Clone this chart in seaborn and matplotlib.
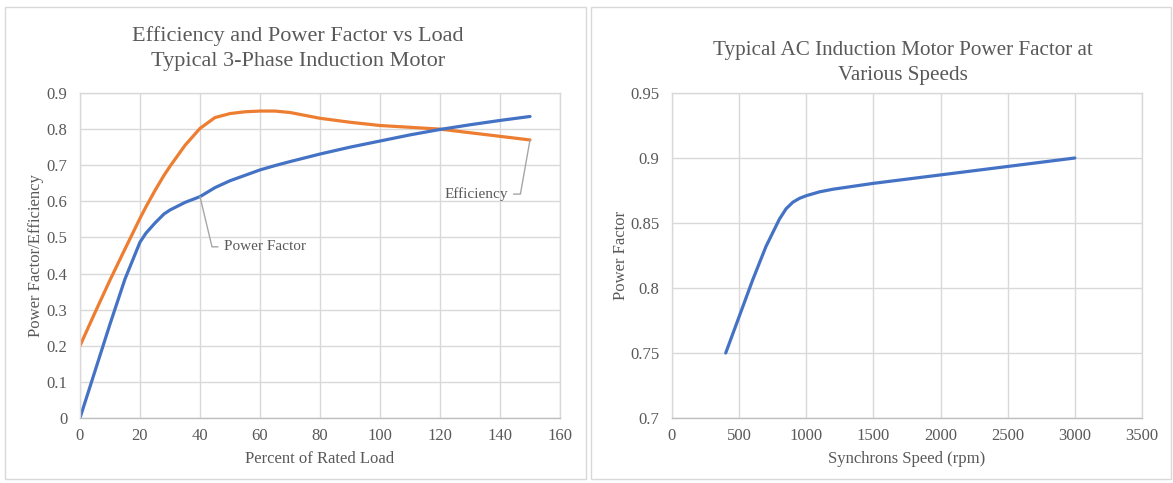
import matplotlib
matplotlib.use("Agg")
import matplotlib.pyplot as plt
from matplotlib.patches import Rectangle
import seaborn as sns

# Left chart: efficiency and power factor against load (% of rated)
load_pct = [0, 5, 10, 15, 20, 22, 25, 28, 30, 35, 40, 45, 50, 55, 60, 65, 70, 80, 90,
            100, 110, 120, 130, 140, 150]
power_factor = [0.0, 0.13, 0.26, 0.385, 0.487, 0.512, 0.54, 0.565, 0.576, 0.597, 0.613,
                0.638, 0.657, 0.672, 0.687, 0.699, 0.71, 0.731, 0.75, 0.767, 0.784,
                0.799, 0.812, 0.824, 0.835]
efficiency = [0.2, 0.292, 0.382, 0.468, 0.553, 0.585, 0.63, 0.672, 0.697, 0.755, 0.802,
              0.832, 0.843, 0.848, 0.85, 0.85, 0.846, 0.83, 0.819, 0.81, 0.805, 0.80,
              0.79, 0.78, 0.77]

# Right chart: power factor against synchronous speed
speed_rpm = [400, 500, 600, 700, 800, 850, 900, 950, 1000, 1100, 1200, 1500, 2000, 2500, 3000]
speed_pf = [0.75, 0.778, 0.806, 0.832, 0.853, 0.861, 0.866, 0.869, 0.871, 0.874, 0.876,
            0.8805, 0.887, 0.8935, 0.90]

left_xticks = [0, 20, 40, 60, 80, 100, 120, 140, 160]
left_yticks = [0, 0.1, 0.2, 0.3, 0.4, 0.5, 0.6, 0.7, 0.8, 0.9]
right_xticks = [0, 500, 1000, 1500, 2000, 2500, 3000, 3500]
right_yticks = [0.7, 0.75, 0.8, 0.85, 0.9, 0.95]

BLUE = "#4472C4"
ORANGE = "#ED7D31"
TEXT = "#595959"
GRID = "#D9D9D9"

sns.set_theme(style="white")
plt.rcParams["font.family"] = ["Liberation Serif", "DejaVu Serif"]

W, H = 1173, 483
fig = plt.figure(figsize=(W / 100, H / 100), dpi=100)


def px_box(x0, y0, x1, y1):
    return [x0 / W, 1 - y1 / H, (x1 - x0) / W, (y1 - y0) / H]


# chart frames
for (x0, y0, x1, y1) in [(5, 7, 586, 479), (591, 7, 1171, 479)]:
    fig.patches.append(Rectangle((x0 / W, 1 - y1 / H), (x1 - x0) / W, (y1 - y0) / H,
                                 transform=fig.transFigure, fill=False,
                                 edgecolor="#D9D9D9", linewidth=1.0))

ax1 = fig.add_axes(px_box(80, 93, 560, 418))
ax2 = fig.add_axes(px_box(672, 93, 1142, 418))


def fmt(v):
    return f"{v:.2f}".rstrip("0").rstrip(".")


def style_axes(ax, xticks, yticks):
    ax.set_xticks(xticks)
    ax.set_yticks(yticks)
    ax.set_xticklabels([str(t) for t in xticks])
    ax.set_yticklabels([fmt(t) for t in yticks])
    ax.set_xlim(xticks[0], xticks[-1])
    ax.set_ylim(yticks[0], yticks[-1])
    ax.grid(True, color=GRID, linewidth=1.0)
    ax.set_axisbelow(True)
    for s in ax.spines.values():
        s.set_color(GRID)
        s.set_linewidth(1.0)
    ax.spines["bottom"].set_color("#BFBFBF")
    ax.tick_params(axis="both", length=0, labelsize=12, colors=TEXT)
    ax.tick_params(axis="x", pad=7)
    ax.tick_params(axis="y", pad=9)


sns.lineplot(x=load_pct, y=efficiency, ax=ax1, color=ORANGE, linewidth=2.3,
             sort=False, estimator=None)
sns.lineplot(x=load_pct, y=power_factor, ax=ax1, color=BLUE, linewidth=2.3,
             sort=False, estimator=None)
style_axes(ax1, left_xticks, left_yticks)
ax1.set_xlabel("Percent of Rated Load", fontsize=12, color=TEXT, labelpad=5)
ax1.set_ylabel("Power Factor/Efficiency", fontsize=12, color=TEXT)
ax1.yaxis.set_label_coords(-0.075, 0.5)

# data labels with leader lines
pf_at_40 = power_factor[load_pct.index(40)]
ax1.plot([40, 44, 46], [pf_at_40, 0.474, 0.474], color="#A6A6A6", linewidth=1.0)
ax1.text(48, 0.474, "Power Factor", fontsize=11, color=TEXT, va="center", ha="left")
eff_end = efficiency[-1]
ax1.plot([150, 146.8, 144.5], [eff_end, 0.62, 0.62], color="#A6A6A6", linewidth=1.0)
ax1.text(142.8, 0.62, "Efficiency", fontsize=11, color=TEXT, va="center", ha="right")

sns.lineplot(x=speed_rpm, y=speed_pf, ax=ax2, color=BLUE, linewidth=2.3,
             sort=False, estimator=None)
style_axes(ax2, right_xticks, right_yticks)
ax2.set_xlabel("Synchrons Speed (rpm)", fontsize=12, color=TEXT, labelpad=5)
ax2.set_ylabel("Power Factor", fontsize=12, color=TEXT)
ax2.yaxis.set_label_coords(-0.0915, 0.5)

fig.text(298 / W, 1 - 48.5 / H, "Efficiency and Power Factor vs Load\nTypical 3-Phase Induction Motor",
         ha="center", va="center", fontsize=16, color=TEXT, linespacing=1.38)
fig.text(903 / W, 1 - 63 / H, "Typical AC Induction Motor Power Factor at\nVarious Speeds",
         ha="center", va="center", fontsize=15.2, color=TEXT, linespacing=1.4)

fig.savefig("out.png", dpi=100, facecolor="white")
